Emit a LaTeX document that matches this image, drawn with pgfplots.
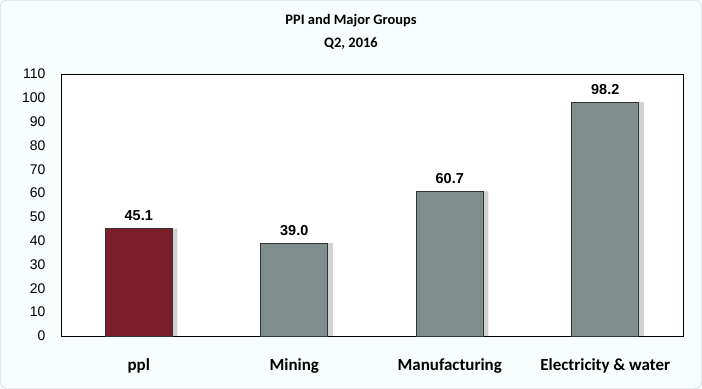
\documentclass[border=0pt]{standalone}
\usepackage{fontspec}
\setmainfont{Carlito}
\newfontfamily\arial{Liberation Sans}
\usepackage{pgfplots}
\pgfplotsset{compat=1.18}
\definecolor{bgc}{HTML}{F7FDFD}
\definecolor{barred}{HTML}{7B1F2A}
\definecolor{bargray}{HTML}{808D8D}
\begin{document}
\begin{tikzpicture}
\useasboundingbox (0,0) rectangle (702bp,389bp);
\fill[bgc] (0,0) rectangle (702bp,389bp);
\draw[gray!40,rounded corners=6bp] (0.5bp,0.5bp) rectangle (701.5bp,388.5bp);
\node[font=\bfseries\fontsize{14.5}{23}\selectfont,align=center] at (351bp,389bp-32bp) {PPI and Major Groups\\Q2, 2016};
\begin{axis}[
  at={(61bp,53bp)}, anchor=south west,
  scale only axis, width=622bp, height=262bp,
  axis background/.style={fill=white},
  axis line style={black, line width=0.8pt},
  xmin=-0.5, xmax=3.5, ymin=0, ymax=110,
  ytick={0,10,...,110},
  xtick={0,1,2,3},
  xticklabels={ppl,Mining,Manufacturing,Electricity \& water},
  major tick length=0pt,
  /pgf/number format/assume math mode=true,
  yticklabel style={font=\arial\fontsize{14}{16}\selectfont, xshift=-12bp},
  xticklabel style={font=\bfseries\fontsize{17}{19}\selectfont, yshift=-19bp},
  ybar, bar width=67bp,
  clip=false,
]
\addplot[draw=none, fill=gray!35, bar shift=5bp] coordinates {(0,45.1) (1,39.0) (2,60.7) (3,98.2)};
\addplot[draw=black!80, fill=barred, line width=0.6pt, bar shift=0pt,
  nodes near coords, nodes near coords style={font=\arial\bfseries\fontsize{14.5}{16}\selectfont, text=black, yshift=4bp},
  /pgf/number format/.cd, fixed, fixed zerofill, precision=1] coordinates {(0,45.1)};
\addplot[draw=black!80, fill=bargray, line width=0.6pt, bar shift=0pt,
  nodes near coords, nodes near coords style={font=\arial\bfseries\fontsize{14.5}{16}\selectfont, text=black, yshift=4bp},
  /pgf/number format/.cd, fixed, fixed zerofill, precision=1] coordinates {(1,39.0) (2,60.7) (3,98.2)};
\end{axis}
\end{tikzpicture}
\end{document}
